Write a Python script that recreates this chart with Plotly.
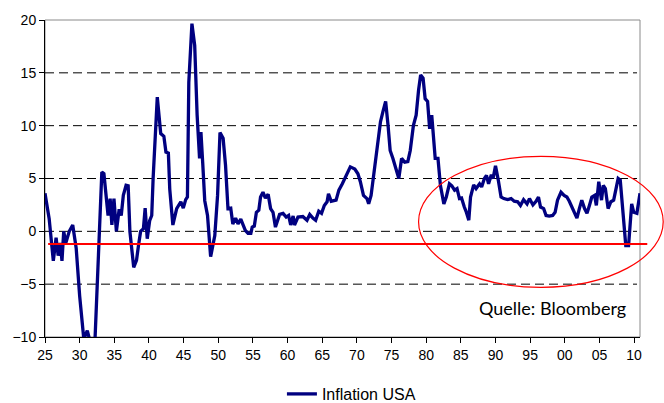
import plotly.graph_objects as go

# ---- data ----
years = [
    1925.0, 1925.6, 1926.2, 1926.6, 1926.9, 1927.2, 1927.45, 1927.7, 1928.0, 1928.5,
    1929.0, 1929.5, 1930.0, 1930.6, 1931.1, 1931.5, 1932.2, 1933.2, 1933.5, 1934.1,
    1934.4, 1934.65, 1934.95, 1935.3, 1935.7, 1936.0, 1936.3, 1936.7, 1937.0, 1937.25,
    1937.8, 1938.2, 1938.5, 1938.8, 1939.2, 1939.45, 1939.75, 1940.1, 1940.4, 1940.6,
    1941.2, 1941.7, 1942.15, 1942.45, 1942.8, 1943.0, 1943.45, 1944.0, 1944.6, 1944.95,
    1945.3, 1945.55, 1945.75, 1946.2, 1946.6, 1946.95, 1947.3, 1947.5, 1947.75, 1948.05,
    1948.45, 1948.9, 1949.5, 1949.9, 1950.25, 1950.7, 1951.05, 1951.4, 1951.8, 1952.1,
    1952.5, 1952.85, 1953.25, 1953.6, 1953.9, 1954.3, 1954.7, 1954.9, 1955.2, 1955.5,
    1955.85, 1956.1, 1956.45, 1956.8, 1957.2, 1957.55, 1957.9, 1958.25, 1958.85, 1959.35,
    1959.8, 1960.15, 1960.45, 1960.8, 1961.0, 1961.5, 1962.2, 1962.8, 1963.2, 1963.65,
    1964.05, 1964.5, 1964.9, 1965.3, 1965.7, 1965.9, 1966.3, 1967.0, 1967.4, 1967.9,
    1968.5, 1969.05, 1969.7, 1970.15, 1970.5, 1970.95, 1971.45, 1971.7, 1972.05, 1972.55,
    1973.0, 1973.4, 1973.75, 1974.15, 1974.5, 1974.8, 1975.2, 1975.6, 1976.05, 1976.45,
    1976.9, 1977.35, 1977.7, 1978.15, 1978.55, 1978.9, 1979.2, 1979.55, 1979.85, 1980.2,
    1980.5, 1980.8, 1981.0, 1981.3, 1981.7, 1982.05, 1982.55, 1982.9, 1983.35, 1983.7,
    1984.1, 1984.45, 1984.8, 1985.1, 1985.5, 1985.75, 1986.15, 1986.4, 1986.85, 1987.2,
    1987.7, 1988.0, 1988.4, 1988.7, 1989.0, 1989.4, 1989.65, 1990.0, 1990.4, 1990.8,
    1991.2, 1991.75, 1992.25, 1992.7, 1993.2, 1993.6, 1994.05, 1994.55, 1994.9, 1995.4,
    1995.85, 1996.2, 1996.5, 1996.95, 1997.3, 1997.75, 1998.25, 1998.6, 1998.95, 1999.45,
    1999.9, 2000.3, 2000.65, 2001.0, 2001.4, 2001.75, 2002.1, 2002.45, 2002.85, 2003.2,
    2003.55, 2003.9, 2004.3, 2004.55, 2004.9, 2005.3, 2005.55, 2005.85, 2006.25, 2006.65,
    2007.05, 2007.45, 2007.7, 2008.0, 2008.3, 2008.6, 2008.8, 2009.2, 2009.4, 2009.65,
    2009.95, 2010.4, 2010.85,
]
inflation_usa = [
    3.6, 1.2, -2.8, -0.6, -2.3, -1.1, -2.8, 0.0, -1.1, 0.0,
    0.6, -1.6, -6.1, -10.2, -9.4, -10.4, -10.5, 5.6, 5.45, 1.5,
    3.1, 0.6, 3.1, 0.0, 2.1, 1.5, 3.4, 4.35, 4.3, 0.0,
    -3.4, -2.75, -1.3, 0.0, 0.25, 2.2, -0.7, 1.0, 1.5, 5.0,
    12.7, 9.25, 9.0, 7.5, 7.4, 4.0, 0.6, 2.15, 2.8, 2.2,
    3.0, 3.25, 14.1, 19.65, 17.6, 11.0, 6.9, 9.4, 6.55, 2.9,
    1.5, -2.4, -0.4, 3.4, 9.35, 8.8, 6.25, 2.15, 2.2, 0.7,
    1.25, 0.7, 1.15, 0.55, 0.1, -0.2, -0.2, 0.4, 0.5, 1.8,
    2.0, 3.25, 3.7, 3.15, 3.5, 2.15, 1.8, 0.4, 1.6, 1.7,
    1.35, 1.5, 0.6, 1.45, 0.6, 1.35, 1.4, 1.05, 1.6, 1.25,
    1.05, 1.9, 1.7, 2.45, 2.8, 3.55, 2.85, 2.95, 3.9, 4.5,
    5.35, 6.1, 5.9, 5.45, 4.7, 3.4, 3.1, 2.6, 3.4, 5.9,
    8.15, 10.35, 11.3, 12.3, 10.0, 7.65, 6.9, 6.1, 5.0, 6.9,
    6.55, 6.6, 7.65, 10.0, 11.0, 13.35, 14.8, 14.5, 12.55, 12.3,
    9.7, 11.0, 9.55, 6.9, 6.9, 4.35, 2.6, 3.25, 4.5, 4.3,
    3.9, 4.05, 3.1, 3.15, 2.3, 1.9, 1.05, 3.25, 4.4, 4.05,
    4.5, 4.2, 5.0, 5.3, 4.5, 5.35, 5.0, 6.2, 4.85, 3.25,
    3.1, 3.0, 3.1, 2.85, 2.8, 2.45, 3.0, 2.6, 3.1, 2.5,
    2.85, 3.25, 2.3, 2.15, 1.5, 1.45, 1.5, 1.8, 2.95, 3.7,
    3.4, 3.25, 2.85, 2.3, 1.8, 1.25, 2.15, 2.95, 2.15, 1.7,
    2.45, 3.25, 3.4, 2.45, 4.7, 2.95, 4.35, 4.05, 2.15, 2.8,
    2.95, 4.05, 5.0, 4.85, 2.8, 0.25, -1.35, -1.35, 0.9, 2.6,
    1.8, 1.7, 3.6,
]
tick_years = list(range(1925, 2011, 5))
tick_labels = ["25", "30", "35", "40", "45", "50", "55", "60", "65", "70",
               "75", "80", "85", "90", "95", "00", "05", "10"]
y_ticks = [-10, -5, 0, 5, 10, 15, 20]
grid_levels = [-5, 0, 5, 10, 15]
reference_level = -1.2

X_RANGE = [1925.0, 2010.85]
Y_RANGE = [-10, 20]


def xp(year):
    return (year - X_RANGE[0]) / (X_RANGE[1] - X_RANGE[0])


def yp(val):
    return (val - Y_RANGE[0]) / (Y_RANGE[1] - Y_RANGE[0])


fig = go.Figure()
fig.add_trace(go.Scatter(
    x=years, y=inflation_usa, mode="lines", name="Inflation USA",
    line=dict(color="#000080", width=3.3),
))

shapes = []
# plot-area border (grey)
shapes.append(dict(type="rect", xref="paper", yref="paper", x0=0, x1=1, y0=0, y1=1,
                   line=dict(color="#8a8a8a", width=1), layer="below"))
# dashed gridlines
for g in grid_levels:
    shapes.append(dict(type="line", xref="paper", yref="paper", x0=0, x1=0.995,
                       y0=yp(g), y1=yp(g),
                       line=dict(color="black", width=1, dash="9px,5px"), layer="below"))
# red reference line
shapes.append(dict(type="line", xref="paper", yref="paper",
                   x0=xp(1925.45), x1=xp(2011.9),
                   y0=yp(reference_level), y1=yp(reference_level),
                   line=dict(color="#ff0000", width=2.2), layer="above"))
# red ellipse highlighting the recent period
shapes.append(dict(type="circle", xref="paper", yref="paper",
                   x0=xp(1978.9), x1=xp(2014.2), y0=yp(-5.3), y1=yp(7.1),
                   line=dict(color="#ff0000", width=1.2), layer="above"))

tickfont = dict(family="Liberation Sans, Arial, sans-serif", size=14, color="black")

fig.update_layout(
    width=664, height=403,
    margin=dict(l=45, r=24, t=20, b=66),
    paper_bgcolor="white", plot_bgcolor="white",
    shapes=shapes,
    showlegend=True,
    legend=dict(orientation="h", x=0.515, xanchor="center",
                yref="container", y=1 - 394 / 403, yanchor="middle",
                font=dict(family="Liberation Sans, Arial, sans-serif", size=16, color="black"),
                bgcolor="rgba(0,0,0,0)"),
    xaxis=dict(range=X_RANGE, tickmode="array", tickvals=tick_years, ticktext=tick_labels,
               ticks="outside", ticklen=5, tickcolor="black", tickwidth=1,
               showline=True, linecolor="black", linewidth=1,
               showgrid=False, zeroline=False, tickfont=tickfont),
    yaxis=dict(range=Y_RANGE, tickmode="array", tickvals=y_ticks,
               ticks="outside", ticklen=5, tickcolor="black", tickwidth=1,
               showline=True, linecolor="black", linewidth=1,
               showgrid=False, zeroline=False, tickfont=tickfont),
    annotations=[dict(text="Quelle: Bloomberg", xref="paper", yref="paper",
                      x=0.98, y=yp(-7.25), xanchor="right", yanchor="middle",
                      showarrow=False,
                      font=dict(family="Lato, sans-serif", size=18, color="black"))],
)

fig.write_html("out.html", config={"displayModeBar": False},
               post_script="document.body.style.margin='0';")
